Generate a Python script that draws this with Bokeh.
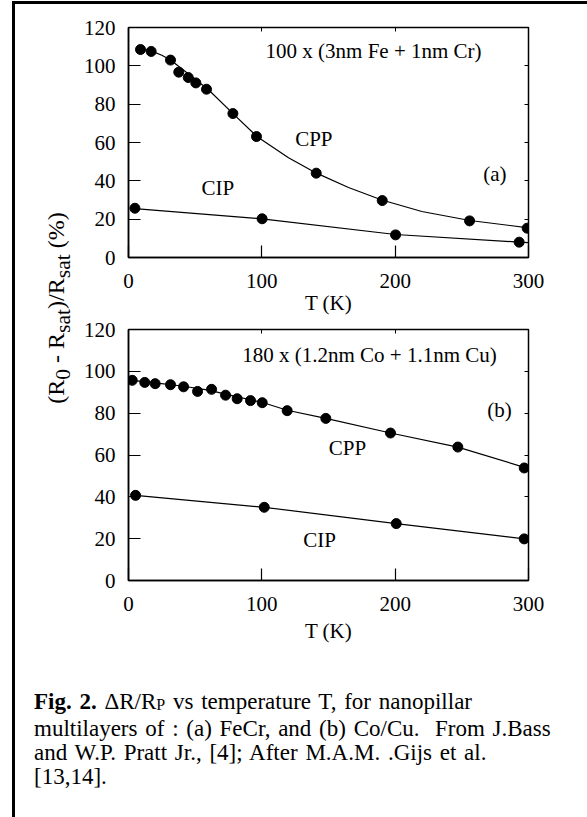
from bokeh.plotting import figure
from bokeh.models import (Range1d, LinearAxis, FixedTicker, Label, Div, Column, Row,
                          CustomJSTickFormatter)
from bokeh.embed import file_html
from bokeh.resources import INLINE

FONT = "Liberation Serif"

# ---------------- data ----------------
x_ticks = [0, 100, 200, 300]
y_ticks = [0, 20, 40, 60, 80, 100, 120]

# panel (a): 100 x (3nm Fe + 1nm Cr)
T_a_cpp = [9, 17, 31.5, 37.7, 44.8, 50.5, 58.5, 78.3, 96, 140.8, 190.3, 255.8, 299]
R_a_cpp = [108.5, 107.5, 103, 96.7, 93.9, 91.1, 87.8, 75.1, 63.1, 44, 29.7, 19.1, 15.3]
T_a_cpp_fit = [9, 17, 25, 31.5, 40, 50, 60, 78, 96, 120, 141, 165, 190, 220, 256, 300]
R_a_cpp_fit = [108.8, 107.8, 105.5, 103, 98.5, 93, 87.5, 75.3, 63.3, 52, 44, 36.5, 30, 24, 19.3, 15.5]
T_a_cip = [4.8, 100.2, 200.3, 293]
R_a_cip = [25.7, 20.2, 11.8, 8.0]
T_a_cip_fit = [4.8, 100.2, 200.3, 293, 300]
R_a_cip_fit = [25.5, 20.2, 12.0, 8.0, 7.8]

# panel (b): 180 x (1.2nm Co + 1.1nm Cu)
T_b_cpp = [2.8, 12.2, 20, 31.5, 41.3, 51.8, 62.3, 72.8, 81.5, 91.5, 100.3, 119, 148, 196.5, 247, 296.8]
R_b_cpp = [95.7, 94.7, 94.1, 93.6, 92.6, 90.4, 91.4, 88.6, 86.9, 86, 85, 81.2, 77.5, 70.5, 63.8, 53.8]
T_b_cpp_fit = [2.8, 20, 40, 60, 80, 100, 119, 148, 196.5, 247, 300]
R_b_cpp_fit = [95.7, 94.5, 93, 91, 88, 85.2, 81.4, 77.5, 70.5, 63.8, 53.5]
T_b_cip = [5.3, 101.8, 200.8, 296.8]
R_b_cip = [40.7, 35, 27.2, 19.9]
T_b_cip_fit = [5.3, 101.8, 200.8, 296.8, 300]
R_b_cip_fit = [40.7, 35, 27.2, 19.9, 19.7]

title_a = "100 x (3nm Fe + 1nm Cr)"
title_b = "180 x (1.2nm Co + 1.1nm Cu)"
x_label = "T (K)"


def make_panel(frame_h, top, bottom, label_standoff):
    p = figure(frame_width=400, frame_height=frame_h,
               min_border_left=53, min_border_right=59,
               min_border_top=top, min_border_bottom=bottom,
               x_range=Range1d(0, 300), y_range=Range1d(0, 120),
               output_backend="svg", toolbar_location=None,
               x_axis_label=x_label)
    p.grid.visible = False
    p.outline_line_color = "black"
    p.outline_line_width = 1.5
    p.outline_line_alpha = 1.0
    for ax in (p.xaxis[0], p.yaxis[0]):
        ax.axis_line_width = 1.5
        ax.axis_line_color = "black"
        ax.major_tick_in = 12
        ax.major_tick_out = 0
        ax.major_tick_line_width = 1.2
        ax.major_tick_line_color = "black"
        ax.minor_tick_line_color = None
        ax.major_label_text_font = FONT
        ax.major_label_text_font_size = "21px"
        ax.major_label_text_color = "black"
    p.xaxis.ticker = FixedTicker(ticks=x_ticks)
    p.yaxis.ticker = FixedTicker(ticks=y_ticks)
    p.xaxis.major_label_standoff = 16
    p.yaxis.major_label_standoff = 13
    p.xaxis.axis_label_text_font = FONT
    p.xaxis.axis_label_text_font_size = "21px"
    p.xaxis.axis_label_text_font_style = "normal"
    p.xaxis.axis_label_text_color = "black"
    p.xaxis.axis_label_standoff = label_standoff

    blank = CustomJSTickFormatter(code="return ''")
    ra = LinearAxis(ticker=FixedTicker(ticks=y_ticks), formatter=blank,
                    major_tick_in=4, major_tick_out=0, minor_tick_line_color=None,
                    axis_line_color=None, major_label_standoff=0)
    ta = LinearAxis(ticker=FixedTicker(ticks=x_ticks), formatter=blank,
                    major_tick_in=4, major_tick_out=0, minor_tick_line_color=None,
                    axis_line_color=None, major_label_standoff=0)
    p.add_layout(ra, "right")
    p.add_layout(ta, "above")
    return p


def lab(p, x, y, text):
    p.add_layout(Label(x=x, y=y, text=text, text_font=FONT, text_font_size="21px",
                       text_color="black", text_baseline="middle", text_align="left"))


# ---------------- panel (a) ----------------
pa = make_panel(230, 23, 58, 0)
pa.line(T_a_cpp_fit, R_a_cpp_fit, line_color="black", line_width=1.2)
pa.line(T_a_cip_fit, R_a_cip_fit, line_color="black", line_width=1.2)
pa.scatter(T_a_cpp, R_a_cpp, size=10, color="black")
pa.scatter(T_a_cip, R_a_cip, size=10, color="black")
lab(pa, 102.8, 108, title_a)
lab(pa, 125, 62, "CPP")
lab(pa, 54.7, 36.5, "CIP")
lab(pa, 266, 43.8, "(a)")

# ---------------- panel (b) ----------------
pb = make_panel(251, 12, 67, 5)
pb.line(T_b_cpp_fit, R_b_cpp_fit, line_color="black", line_width=1.2)
pb.line(T_b_cip_fit, R_b_cip_fit, line_color="black", line_width=1.2)
pb.scatter(T_b_cpp, R_b_cpp, size=10, color="black")
pb.scatter(T_b_cip, R_b_cip, size=10, color="black")
lab(pb, 85.3, 107.9, title_b)
lab(pb, 269, 81.6, "(b)")
lab(pb, 150.2, 63.3, "CPP")
lab(pb, 131, 19.6, "CIP")

# ---------------- shared y label ----------------
sub = "<sub style='font-size:0.9em;'>{}</sub>"
ylabel_html = (
    "<div style=\"position:absolute;left:44px;top:304px;"
    "transform:translate(-50%,-50%) rotate(-90deg);white-space:nowrap;"
    "font-family:'Liberation Serif';font-size:24px;line-height:1;color:#000;\">"
    "(R" + sub.format("0") + " - R" + sub.format("sat") + ")/R" + sub.format("sat") + " (%)"
    "</div>"
)
ylab = Div(text=ylabel_html, width=60, height=641, margin=0,
           styles={"position": "relative"})

# ---------------- caption ----------------
caption_html = (
    "<div style=\"padding:43px 0 0 19px;font-family:'Liberation Serif';font-size:23px;"
    "line-height:24px;word-spacing:2px;color:#000;white-space:nowrap;\">"
    "<b>Fig. 2.</b> &Delta;R/R<span style='font-size:16px;vertical-align:-1px;'>P</span>"
    " vs temperature T, for nanopillar<br>"
    "multilayers of : (a) FeCr, and (b) Co/Cu.&nbsp; From J.Bass<br>"
    "and W.P. Pratt Jr., [4]; After M.A.M. .Gijs et al.<br>"
    "[13,14]."
    "</div>"
)
caption = Div(text=caption_html, width=572, height=172, margin=0)

panels = Column(children=[pa, pb], spacing=0)
top = Row(children=[ylab, panels], spacing=0)
root = Column(children=[top, caption], spacing=0,
              styles={"border-left": "3px solid black", "border-top": "3px solid black",
                      "margin-top": "1px", "margin-left": "12px"})

open("out.html", "w").write(file_html(root, INLINE))
